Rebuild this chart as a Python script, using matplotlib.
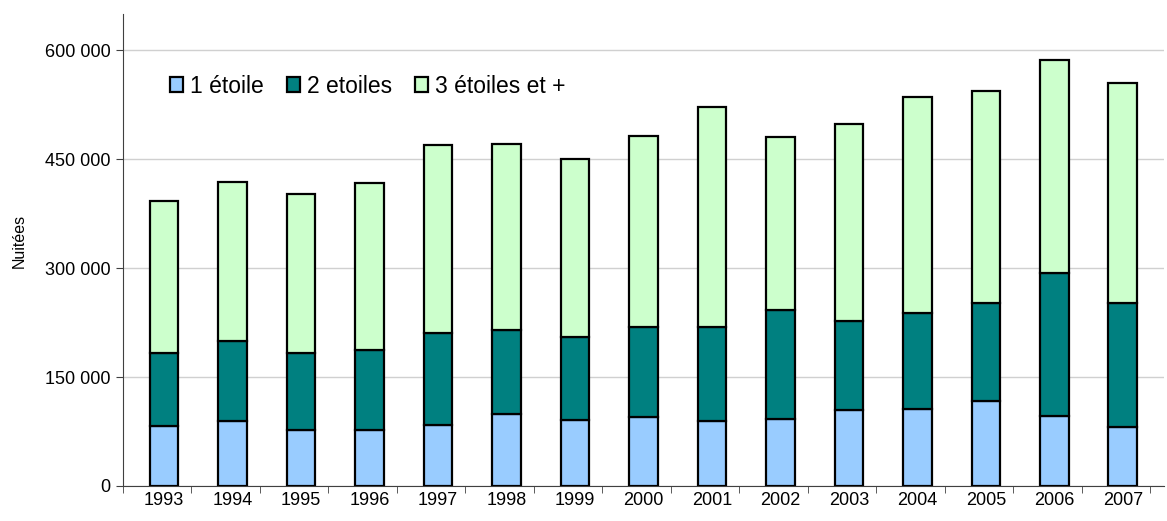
import matplotlib
matplotlib.use("Agg")
import matplotlib.pyplot as plt
import numpy as np

plt.rcParams['font.family'] = ['Liberation Sans', 'DejaVu Sans']

annees = ['1993', '1994', '1995', '1996', '1997', '1998', '1999', '2000',
          '2001', '2002', '2003', '2004', '2005', '2006', '2007']
une_etoile = [82800, 89100, 77700, 77700, 83600, 99400, 91500, 95200,
              90100, 92500, 104300, 106700, 117700, 97000, 80900]
deux_etoiles = [100700, 110000, 105800, 109400, 126600, 115900, 113600, 123700,
                128400, 150400, 123400, 132000, 134800, 196000, 170700]
trois_etoiles = [208800, 219000, 218900, 230500, 259400, 255300, 245200, 263500,
                 303500, 238200, 271300, 297200, 291200, 293500, 303200]
graduations = [0, 150000, 300000, 450000, 600000]

fig = plt.figure(figsize=(11.67, 5.21), dpi=100)
ax = fig.add_axes([0.1054, 0.0672, 0.892, 0.906])

x = np.arange(len(annees))
larg = 0.42
b1 = np.array(une_etoile)
b2 = b1 + np.array(deux_etoiles)
ax.bar(x, une_etoile, larg, color='#99CCFF', edgecolor='black', linewidth=1.6,
       label='1 étoile', zorder=3)
ax.bar(x, deux_etoiles, larg, bottom=b1, color='#008080', edgecolor='black',
       linewidth=1.6, label='2 etoiles', zorder=3)
ax.bar(x, trois_etoiles, larg, bottom=b2, color='#CCFFCC', edgecolor='black',
       linewidth=1.6, label='3 étoiles et +', zorder=3)

ax.set_xlim(-0.6, len(annees) - 0.4)
ax.set_ylim(0, 650000)
ax.set_yticks(graduations)
ax.set_yticklabels([f"{v:,}".replace(",", " ") for v in graduations], fontsize=13)
ax.yaxis.grid(True, color='#D0D0D0', linewidth=1, zorder=0)

ax.set_xticks(x)
ax.set_xticklabels(annees, fontsize=13)
ax.tick_params(axis='x', which='major', length=0, pad=4)
ax.set_xticks(np.arange(len(annees) + 1) - 0.6, minor=True)
ax.tick_params(axis='x', which='minor', length=5, color='#404040')
ax.tick_params(axis='y', length=5, color='#404040', pad=4)

for s in ['top', 'right']:
    ax.spines[s].set_visible(False)
ax.spines['left'].set_color('#404040')
ax.spines['bottom'].set_color('#404040')

ax.set_ylabel('Nuitées', fontsize=11.5)
ax.yaxis.set_label_coords(-0.092, 0.52)

ax.legend(loc='center left', bbox_to_anchor=(0.045, 0.847), ncol=3, frameon=False,
          fontsize=16.5, handlelength=0.58, handleheight=0.58, handletextpad=0.3,
          columnspacing=1.0, borderaxespad=0, borderpad=0)

fig.savefig('out.png', dpi=100)
